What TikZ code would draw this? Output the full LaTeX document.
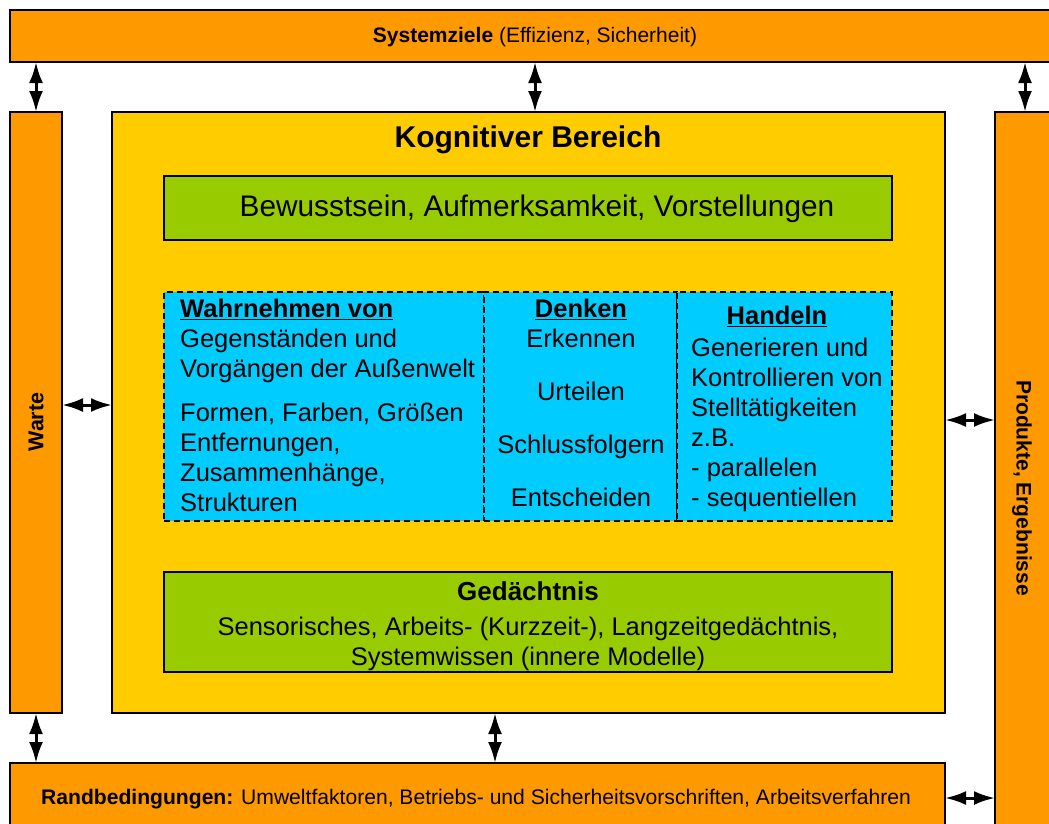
\documentclass[tikz,border=0pt]{standalone}
\usepackage{fontspec}
\setmainfont{Liberation Sans}
\usetikzlibrary{arrows.meta}
\definecolor{frameorange}{HTML}{FF9900}
\definecolor{coreyellow}{HTML}{FFCC00}
\definecolor{leafgreen}{HTML}{99CC00}
\definecolor{skyblue}{HTML}{00CCFF}
\newcommand{\fs}[2]{\fontsize{#1}{#2}\selectfont}
\begin{document}
\begin{tikzpicture}[x=1pt,y=-1pt,
  panel/.style={draw=black,line width=2.5pt,anchor=north west,inner sep=0pt,outer sep=0pt},
  zone/.style={draw=black,line width=1.6pt,dash pattern=on 6pt off 4pt,fill=skyblue,anchor=north west,inner sep=0pt,outer sep=0pt},
  biarrow/.style={line width=3pt,arrows={Latex[length=21pt,width=14pt]-Latex[length=21pt,width=14pt]}},
  txt/.style={inner sep=0pt,text=black},
  body/.style={txt,font=\fs{25.5}{30}}]
\clip (0,0) rectangle (1049,823);
\useasboundingbox (0,0) rectangle (1049,823);

% outer frame boxes
\node[panel,fill=frameorange,minimum width=1070pt,minimum height=52pt] (sys) at (10,10) {};
\node[panel,fill=frameorange,minimum width=52pt,minimum height=601pt] (warte) at (10,112) {};
\node[panel,fill=coreyellow,minimum width=833pt,minimum height=601pt] (kog) at (112,112) {};
\node[panel,fill=frameorange,minimum width=60pt,minimum height=730pt] (prod) at (995,112) {};
\node[panel,fill=frameorange,minimum width=935pt,minimum height=70pt] (rand) at (10,763) {};

% inner boxes of the cognitive area
\node[panel,fill=leafgreen,minimum width=728pt,minimum height=64pt] (bew) at (164,176) {};
\node[panel,fill=leafgreen,minimum width=728pt,minimum height=100pt] (ged) at (164,572) {};
\node[zone,minimum width=320pt,minimum height=229pt] (wahr) at (164,292) {};
\node[zone,minimum width=193pt,minimum height=229pt] (denk) at (484,292) {};
\node[zone,minimum width=215pt,minimum height=229pt] (hand) at (677,292) {};

% labels
\node[txt,font=\fs{21}{24}] (tsys) at (535,37) {\textbf{Systemziele} (Effizienz, Sicherheit)};
\node[txt,rotate=90,font=\fs{21.5}{24}] (twarte) at (36,422) {\textbf{Warte}};
\node[txt,rotate=-90,font=\fs{21}{24}] (tprod) at (1022,488) {\textbf{Produkte, Ergebnisse}};
\node[txt,font=\fs{21.1}{24}] (trand) at (476,799) {\textbf{Randbedingungen:} Umweltfaktoren, Betriebs- und Sicherheitsvorschriften, Arbeitsverfahren};
\node[txt,font=\fs{30}{34}] (tkog) at (528,140) {\textbf{Kognitiver Bereich}};
\node[txt,font=\fs{29.8}{34}] (tbew) at (537,209) {Bewusstsein, Aufmerksamkeit, Vorstellungen};
\node[txt,font=\fs{26}{30}] (tged1) at (528,591) {\textbf{Gedächtnis}};
\node[body,align=center] (tged2) at (528,644) {Sensorisches, Arbeits- (Kurzzeit-), Langzeitgedächtnis,\\Systemwissen (innere Modelle)};

\node[body,anchor=north west,align=left] (twahr) at (180,299)
  {\textbf{\underline{Wahrnehmen von}}\\Gegenständen und\\Vorgängen der Außenwelt\\[14pt]Formen, Farben, Größen\\Entfernungen,\\Zusammenhänge,\\Strukturen};
\node[body,anchor=north,align=center] (tdenk) at (581,299)
  {\textbf{\underline{Denken}}\\Erkennen\\[23pt]Urteilen\\[23pt]Schlussfolgern\\[23pt]Entscheiden};
\node[body] (thandh) at (777,316) {\textbf{\underline{Handeln}}};
\node[body,anchor=north west,align=left] (thand) at (691,338)
  {Generieren und\\Kontrollieren von\\Stelltätigkeiten\\z.B.\\- parallelen\\- sequentiellen};

% connectors
\coordinate (kogtop) at ([xshift=6.5pt]kog.north);
\coordinate (kogbot) at ([xshift=-33.5pt]kog.south);
\coordinate (warteside) at ([yshift=7.5pt]warte.east);
\coordinate (kogside) at ([yshift=-7.5pt]kog.east);
\draw[biarrow] (warte.north) -- (warte.north |- sys.south);
\draw[biarrow] (kogtop) -- (kogtop |- sys.south);
\draw[biarrow] (prod.north) -- (prod.north |- sys.south);
\draw[biarrow] (warte.south) -- (warte.south |- rand.north);
\draw[biarrow] (kogbot) -- (kogbot |- rand.north);
\draw[biarrow] (warteside) -- (warteside -| kog.west);
\draw[biarrow] (kogside) -- (kogside -| prod.west);
\draw[biarrow] (rand.east) -- (rand.east -| prod.west);
\end{tikzpicture}
\end{document}
